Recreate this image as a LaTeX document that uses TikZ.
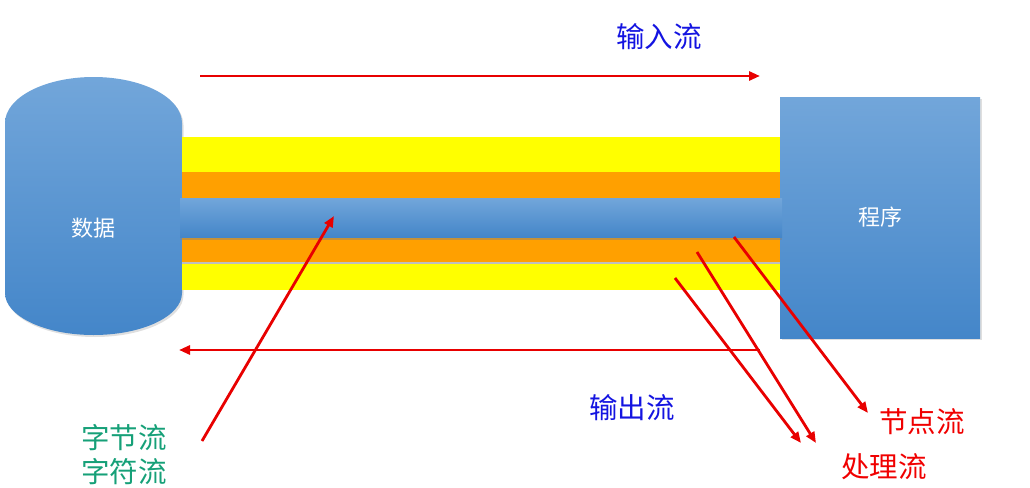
\documentclass[tikz,border=0pt]{standalone}
\usepackage{fontspec}
\newfontfamily\cjk{Noto Sans CJK SC}
\usetikzlibrary{arrows.meta,shadows}
\definecolor{bluetop}{RGB}{114,166,218}
\definecolor{bluebot}{RGB}{68,134,201}
\definecolor{barorange}{RGB}{255,160,0}
\definecolor{baryellow}{RGB}{255,255,0}
\definecolor{arrowred}{RGB}{232,0,0}
\definecolor{txtblue}{RGB}{20,20,225}
\definecolor{txtred}{RGB}{240,0,0}
\definecolor{txtgreen}{RGB}{22,160,120}
\tikzset{
  bluefill/.style={top color=bluetop, bottom color=bluebot, draw=none},
  softshadow/.style={drop shadow={opacity=0.25, shadow xshift=1.5pt, shadow yshift=-2pt}},
  redarrow/.style={draw=arrowred, line width=2.8pt, -{Triangle[length=11pt,width=9pt]}},
  whitetxt/.style={text=white, font=\cjk\fontsize{22}{25}\selectfont},
  bigtxt/.style={font=\cjk\fontsize{28.5}{32}\selectfont, inner sep=0pt},
}
\begin{document}
\begin{tikzpicture}[x=1pt,y=-1pt]
\useasboundingbox (0,0) rectangle (1030,487);
% cylinder
\path[bluefill, softshadow] (5,123) -- (5,293)
  arc[start angle=180, end angle=360, x radius=88.5pt, y radius=42pt]
  -- (182,123)
  arc[start angle=0, end angle=180, x radius=88.5pt, y radius=46pt] -- cycle;
\node[whitetxt] (data) at (93,228) {数据};
% bars
\fill[baryellow] (182,137) rectangle (782,290);
\fill[barorange] (182,172) rectangle (782,262);
\fill[black!25] (182,262) rectangle (782,263.5);
% program box
\node[bluefill, softshadow, minimum width=200pt, minimum height=241pt, inner sep=0pt] (prog) at (880,217.5) {};
\node[whitetxt] (progtxt) at (880,217) {程序};
% blue pipe
\path[bluefill, drop shadow={opacity=0.45, shadow xshift=0pt, shadow yshift=-2.5pt}] (180,198) rectangle (782,237);
% labels
\node[bigtxt, text=txtblue] (in) at (659,37) {输入流};
\node[bigtxt, text=txtblue] (out) at (632,408) {输出流};
\node[bigtxt, text=txtgreen] (byte) at (124,438) {字节流};
\node[bigtxt, text=txtgreen] (char) at (124,472) {字符流};
\node[bigtxt, text=txtred] (node) at (922,422) {节点流};
\node[bigtxt, text=txtred] (proc) at (884,467) {处理流};
% arrow endpoints
\coordinate (inS) at (200,76);
\coordinate (inE) at (760,76);
\coordinate (outS) at (760,350);
\coordinate (outE) at (179,350);
\coordinate (byteS) at (202,441);
\coordinate (byteE) at (334,216);
\coordinate (nodeS) at (734,237);
\coordinate (nodeE) at (868,413);
\coordinate (p1S) at (697,252);
\coordinate (p1E) at (816,443);
\coordinate (p2S) at (675,278);
\coordinate (p2E) at (801,443);
\draw[redarrow] (inS) -- (inE);
\draw[redarrow] (outS) -- (outE);
\draw[redarrow] (byteS) -- (byteE);
\draw[redarrow] (nodeS) -- (nodeE);
\draw[redarrow] (p1S) -- (p1E);
\draw[redarrow] (p2S) -- (p2E);
\end{tikzpicture}
\end{document}
